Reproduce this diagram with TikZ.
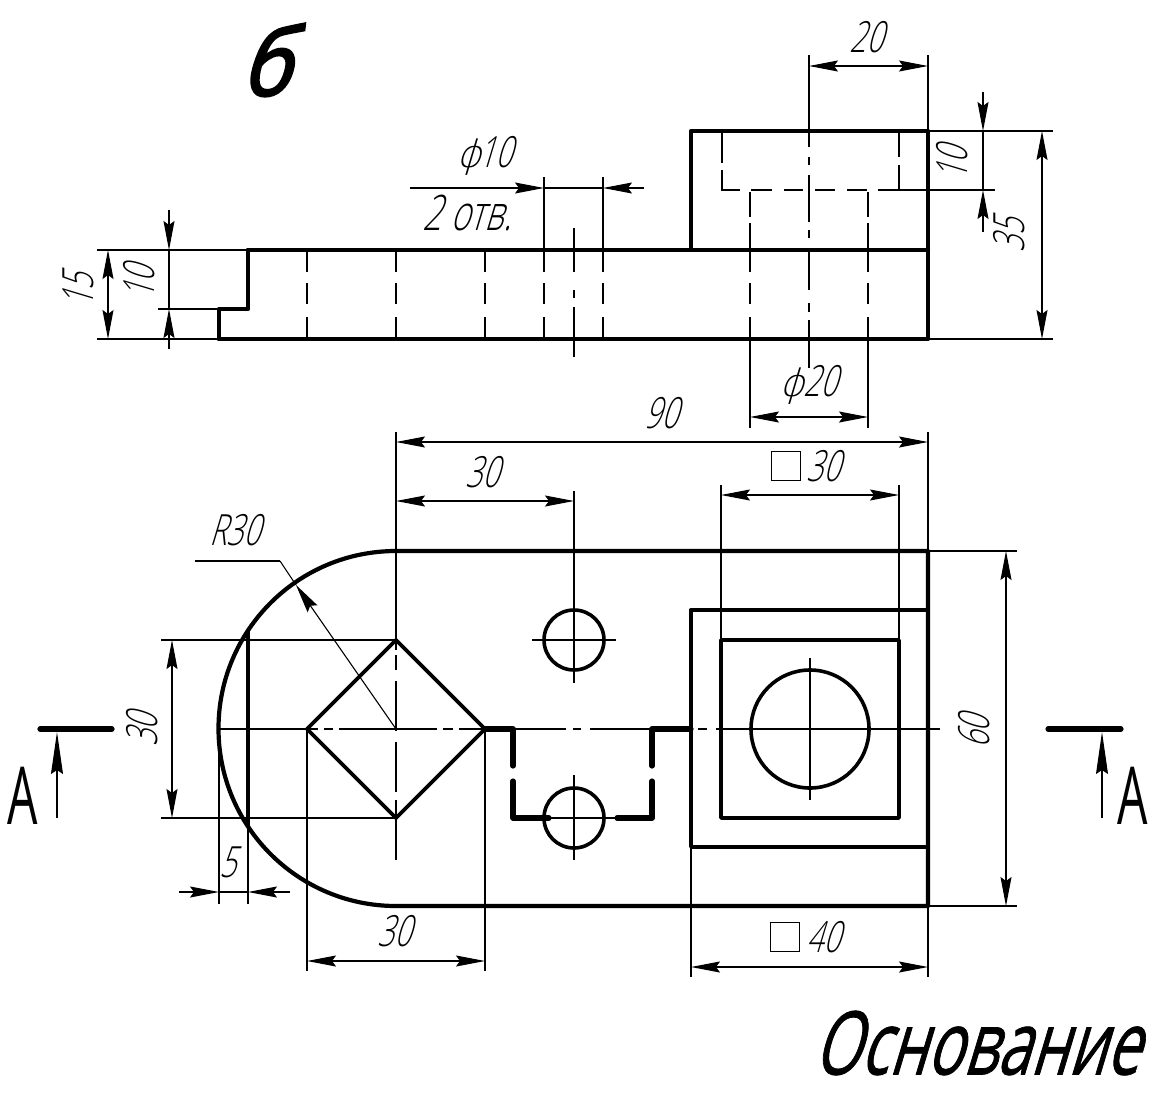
\documentclass[tikz,border=0pt]{standalone}
\usepackage{fontspec}
\usetikzlibrary{arrows.meta}
\newfontfamily\gost[FakeSlant=0.3,FakeStretch=0.68]{Open Sans Light}
\newfontfamily\gostb[FakeSlant=0.3,FakeStretch=0.68,FakeBold=0.8]{Open Sans}
\newfontfamily\gostc[FakeSlant=0.3,FakeStretch=0.88,FakeBold=2.5]{Open Sans}
\newfontfamily\gostup[FakeStretch=0.6]{Open Sans}
\newfontfamily\dia[FakeSlant=0.3]{DejaVu Sans ExtraLight}
\tikzset{
  x=1pt,y=-1pt,
  thick line/.style={line width=4.2pt,line join=round,line cap=round},
  mid line/.style={line width=3.6pt,line join=round,line cap=round},
  sec line/.style={line width=5.2pt,line join=round,line cap=round},
  thin line/.style={line width=1.1pt},
  hidden line/.style={line width=1.1pt,dash pattern=on 22pt off 11pt on 21pt off 13pt},
  dim/.style={line width=1.1pt,{Stealth[length=29pt,width=11pt,inset=4pt]}-{Stealth[length=29pt,width=11pt,inset=4pt]}},
  dimend/.style={line width=1.1pt,-{Stealth[length=29pt,width=11pt,inset=4pt]}},
  secarrow/.style={line width=1.1pt,-{Stealth[length=42pt,width=12pt,inset=4pt]}},
  lab/.style={font=\gost\fontsize{43}{43}\selectfont,inner sep=0pt},
  symbox/.style={draw,line width=1.1pt,minimum width=29pt,minimum height=29pt,inner sep=0pt},
}
\begin{document}
\begin{tikzpicture}
\useasboundingbox[fill=white] (0,0) rectangle (1159,1095);
% front view
\draw[thick line] (248,250) -- (928,250);
\draw[thick line] (219,339) -- (928,339) -- (928,131) -- (691,131) -- (691,250);
\draw[thick line] (248,250) -- (248,309) -- (219,309) -- (219,339);
\foreach \x in {307,396,485,544,603,750,868}{\draw[hidden line] (\x,250) -- (\x,339);}
\draw[thin line] (750,192) -- (750,217) (750,223) -- (750,250);
\draw[thin line] (868,192) -- (868,217) (868,223) -- (868,250);
\draw[thin line] (722,131) -- (722,163) (722,170) -- (722,190) -- (740,190) (751,190) -- (772,190) (784,190) -- (803,190) (815,190) -- (835,190) (847,190) -- (867,190) (878,190) -- (899,190);
\draw[thin line] (899,131) -- (899,157) (899,165) -- (899,190);
\draw[thin line] (574,228) -- (574,272) (574,290) -- (574,298) (574,307) -- (574,357);
\draw[thin line] (809,55) -- (809,147) (809,157) -- (809,165) (809,175) -- (809,222) (809,230) -- (809,238) (809,252) -- (809,290) (809,303) -- (809,312) (809,320) -- (809,368);
% front dims
\draw[thin line] (928,55) -- (928,131);
\draw[dim] (809,66) -- (928,66);
\node[lab] (t20) at (866,37) {20};
\draw[thin line] (928,131) -- (1053,131);
\draw[thin line] (899,190) -- (995,190);
\draw[thin line] (928,339) -- (1053,339);
\draw[thin line] (983,131) -- (983,190);
\draw[dimend] (983,92) -- (983,131);
\draw[dimend] (983,232) -- (983,190);
\node[lab,rotate=90] (t10a) at (952,164) {10};
\draw[dim] (1042,131) -- (1042,339);
\node[lab,rotate=90] (t35) at (1009,236) {35};
\draw[thin line] (97,250) -- (248,250);
\draw[thin line] (97,339) -- (219,339);
\draw[thin line] (158,309) -- (219,309);
\draw[dim] (108,250) -- (108,339);
\node[lab,rotate=90] (t15) at (78,291) {15};
\draw[thin line] (169,250) -- (169,309);
\draw[dimend] (169,210) -- (169,250);
\draw[dimend] (169,349) -- (169,309);
\node[lab,rotate=90] (t10b) at (139,283) {10};
\draw[thin line] (544,177) -- (544,250);
\draw[thin line] (603,177) -- (603,250);
\draw[dimend] (410,188) -- (544,188);
\draw[thin line] (544,188) -- (603,188);
\draw[dimend] (644,188) -- (603,188);
\node[lab] (t10c) at (484,156) {{\dia\fontsize{38}{38}\selectfont ϕ}\kern-3pt 10};
\node[lab,font=\gost\fontsize{49}{49}\selectfont] (t2) at (467,213) {2 отв.};
\draw[thin line] (750,339) -- (750,428);
\draw[thin line] (868,339) -- (868,428);
\draw[dim] (750,417) -- (868,417);
\node[lab] (t20b) at (808,385) {{\dia\fontsize{38}{38}\selectfont ϕ}\kern-1pt 20};
% plan
\draw[thick line] (928,551) -- (396,551) arc[start angle=270,end angle=90,radius=177.5] -- (928,906) -- cycle;
\draw[thick line] (248,632) -- (248,825);
\draw[mid line] (691,610) -- (928,610);
\draw[mid line] (928,847) -- (691,847) -- (691,610);
\draw[mid line] (721,640) rectangle (899,818);
\draw[mid line] (810,729) circle[radius=59];
\draw[mid line] (574,640) circle[radius=30];
\draw[mid line] (574,818) circle[radius=30];
\draw[mid line] (307,729) -- (396,640) -- (485,729) -- (396,818) -- cycle;
\draw[sec line] (485,729) -- (513,729) -- (513,766);
\draw[sec line] (513,781) -- (513,818) -- (549,818);
\draw[sec line] (617,818) -- (652,818) -- (652,781);
\draw[sec line] (652,766) -- (652,729) -- (691,729);
\draw[sec line] (40,729) -- (112,729);
\draw[sec line] (1048,729) -- (1121,729);
% centre lines
\draw[thin line] (218,729) -- (318,729) (324,729) -- (333,729) (339,729) -- (437,729) (443,729) -- (453,729) (459,729) -- (566,729) (573,729) -- (581,729) (590,729) -- (691,729) (698,729) -- (707,729) (716,729) -- (940,729);
\draw[thin line] (396,551) -- (396,650) (396,655) -- (396,670) (396,681) -- (396,731) (396,742) -- (396,792) (396,800) -- (396,860);
\draw[thin line] (574,491) -- (574,683);
\draw[thin line] (574,775) -- (574,860);
\draw[thin line] (532,640) -- (616,640);
\draw[thin line] (532,818) -- (616,818);
\draw[thin line] (810,658) -- (810,800);
% plan dims
\draw[thin line] (396,432) -- (396,551);
\draw[thin line] (928,432) -- (928,551);
\draw[dim] (396,442) -- (928,442);
\node[lab] (t90) at (661,413) {90};
\draw[dim] (396,501) -- (574,501);
\node[lab] (t30a) at (482,472) {30};
\draw[thin line] (721,485) -- (721,640);
\draw[thin line] (899,485) -- (899,640);
\draw[dim] (721,495) -- (899,495);
\node[symbox] (b30) at (786,466) {};
\node[lab] (t30b) at (823,466) {30};
\draw[thin line] (928,551) -- (1017,551);
\draw[thin line] (928,906) -- (1017,906);
\draw[dim] (1006,551) -- (1006,906);
\node[lab,rotate=90] (t60) at (974,732) {60};
\draw[thin line] (161,640) -- (396,640);
\draw[thin line] (161,818) -- (396,818);
\draw[dim] (172,640) -- (172,818);
\node[lab,rotate=90] (t30c) at (142,730) {30};
\draw[thin line] (219,729) -- (219,904);
\draw[thin line] (248,818) -- (248,904);
\draw[thin line] (219,892) -- (248,892);
\draw[dimend] (179,892) -- (219,892);
\draw[dimend] (290,892) -- (248,892);
\node[lab] (t5) at (228,862) {5};
\draw[thin line] (307,729) -- (307,971);
\draw[thin line] (485,729) -- (485,971);
\draw[dim] (307,961) -- (485,961);
\node[lab] (t30d) at (394,931) {30};
\draw[thin line] (691,847) -- (691,977);
\draw[thin line] (928,906) -- (928,977);
\draw[dim] (691,967) -- (928,967);
\node[symbox] (b40) at (785,937) {};
\node[lab] (t40) at (823,937) {40};
\draw[thin line] (195,561) -- (280,561);
\draw[line width=1.1pt,{Stealth[length=29pt,width=12pt,inset=4pt]}-] (296,585) -- (396,729);
\draw[thin line] (280,561) -- (296,585);
\node[lab] (tR) at (235,530) {R30};
% section arrows
\draw[secarrow] (57,818) -- (57,732);
\draw[secarrow] (1102,818) -- (1102,732);
\node[lab,font=\gostup\fontsize{80}{80}\selectfont] (A1) at (23,796) {A};
\node[lab,font=\gostup\fontsize{80}{80}\selectfont] (A2) at (1133,796) {A};
% titles
\node[lab,font=\gostc\fontsize{94}{94}\selectfont] (tb) at (265,60) {б};
\node[lab,font=\gostb\fontsize{88}{88}\selectfont] (tO) at (976,1043) {Основание};
\end{tikzpicture}
\end{document}
